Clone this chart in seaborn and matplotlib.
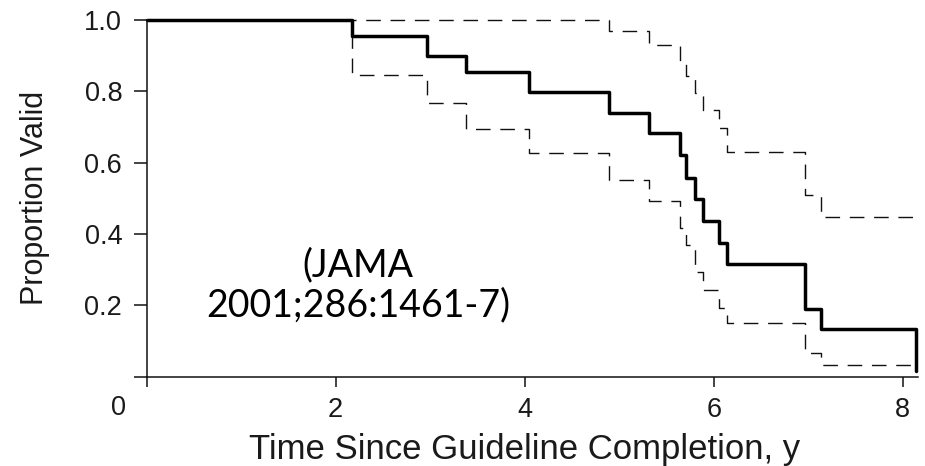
import matplotlib
matplotlib.use("Agg")
import matplotlib.pyplot as plt
import seaborn as sns
import pandas as pd

# Data (Kaplan-Meier style survival of guideline validity)
times = [0.0, 2.17, 2.97, 3.38, 4.05, 4.89, 5.31, 5.64, 5.71, 5.80, 5.89, 6.05, 6.14, 6.96, 7.13, 8.14]
surv = [1.0, 0.955, 0.900, 0.853, 0.799, 0.740, 0.682, 0.622, 0.558, 0.497, 0.437, 0.374, 0.316, 0.190, 0.134, 0.015]
upper = [1.0, 1.0, 1.0, 1.0, 1.0, 0.969, 0.930, 0.882, 0.843, 0.795, 0.748, 0.697, 0.631, 0.510, 0.449, 0.449]
lower = [1.0, 0.845, 0.767, 0.694, 0.626, 0.552, 0.494, 0.417, 0.369, 0.294, 0.243, 0.193, 0.152, 0.067, 0.033, 0.033]

x_ticks = [0, 2, 4, 6, 8]
x_ticklabels = ["", "2", "4", "6", "8"]
y_ticks = [0.0, 0.2, 0.4, 0.6, 0.8, 1.0]
y_ticklabels = ["", "0.2", "0.4", "0.6", "0.8", "1.0"]
origin_label = "0"
x_label = "Time Since Guideline Completion, y"
y_label = "Proportion Valid"
note = "(JAMA\n2001;286:1461-7)"

sns.set_theme(style="ticks")
plt.rcParams["font.family"] = ["Liberation Sans", "DejaVu Sans"]
plt.rcParams["lines.scale_dashes"] = False

df = pd.DataFrame({"time": times, "surv": surv, "upper": upper, "lower": lower})

fig = plt.figure(figsize=(9.25, 4.66), dpi=100)
ax = fig.add_axes([146.5 / 925, 89.2 / 466, (918 - 146.5) / 925, (376.8 - 20) / 466])

txt = "#1a1a1a"
dash = (0, (10.5, 7.0))
sns.lineplot(data=df, x="time", y="upper", ax=ax, color="#111111", lw=1.0,
             linestyle=dash, drawstyle="steps-post", estimator=None, sort=False, clip_on=False)
sns.lineplot(data=df, x="time", y="lower", ax=ax, color="#111111", lw=1.0,
             linestyle=dash, drawstyle="steps-post", estimator=None, sort=False, clip_on=False)
sns.lineplot(data=df, x="time", y="surv", ax=ax, color="black", lw=2.5,
             drawstyle="steps-post", estimator=None, sort=False, clip_on=False)

ax.set_xlim(0, 8.16)
ax.set_ylim(0, 1.0)
sns.despine(ax=ax)
for s in ("left", "bottom"):
    ax.spines[s].set_linewidth(1.1)
    ax.spines[s].set_color("#111111")

ax.set_xticks(x_ticks)
ax.set_xticklabels(x_ticklabels)
ax.set_yticks(y_ticks)
ax.set_yticklabels(y_ticklabels)
ax.tick_params(axis="x", direction="out", length=7.5, width=1.1, pad=7,
               labelsize=19.5, colors="#111111", labelcolor=txt)
ax.tick_params(axis="y", direction="out", length=9.5, width=1.1, pad=8,
               labelsize=19.5, colors="#111111", labelcolor=txt)
ax.set_xlabel("")
ax.set_ylabel("")

fig.text(118 / 925, 1 - 408 / 466, origin_label, ha="center", va="center",
         fontsize=19.5, color=txt)
fig.text(525 / 925, 1 - 449 / 466, x_label, ha="center", va="center",
         fontsize=25, color=txt)
fig.text(35 / 925, 1 - 198 / 466, y_label, ha="center", va="center",
         rotation=90, fontsize=22, color=txt)

ax.text(2.24, 0.257, note, ha="center", va="center", multialignment="center",
        fontsize=27, color="black", family=["Lato"], linespacing=1.12)

fig.savefig("out.png", dpi=100)
